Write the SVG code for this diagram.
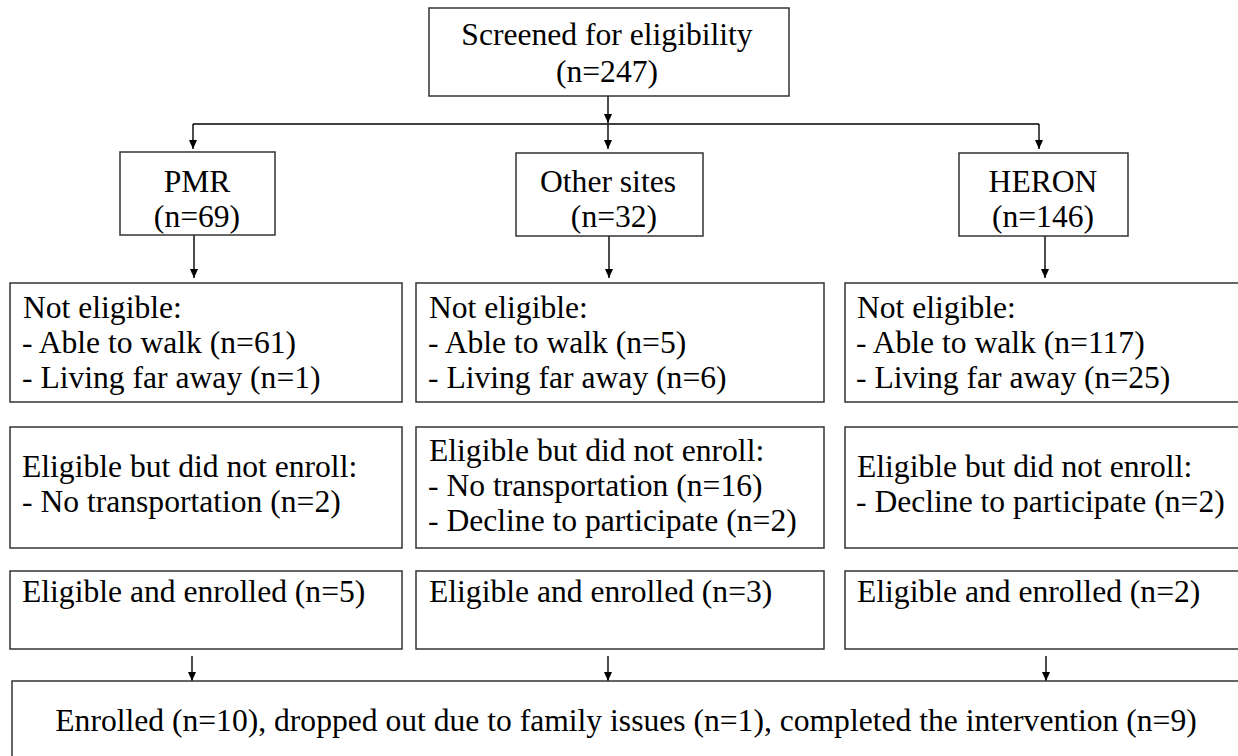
<svg xmlns="http://www.w3.org/2000/svg" width="1238" height="756" viewBox="0 0 1238 756">
<style>
.box{fill:#fff;stroke:#333;stroke-width:1.5}
.t{font-family:"Liberation Serif","Times New Roman",serif;font-size:31.6px;fill:#000}
.c{text-anchor:middle}
.ln{fill:none;stroke:#000;stroke-width:1.4}
</style>
<defs>
<marker id="ah" markerUnits="userSpaceOnUse" markerWidth="10" markerHeight="10" viewBox="0 0 10 10" refX="9" refY="5" orient="auto">
<path d="M0,1 L9,5 L0,9 Z" fill="#000"/>
</marker>
</defs>
<rect width="1238" height="756" fill="#fff"/>
<g id="connectors">
<path class="ln" d="M608,96 V123" marker-end="url(#ah)"/>
<path class="ln" d="M193,124 H1039"/>
<path class="ln" d="M193,124 V149" marker-end="url(#ah)"/>
<path class="ln" d="M608,124 V149" marker-end="url(#ah)"/>
<path class="ln" d="M1039,124 V149" marker-end="url(#ah)"/>
<path class="ln" d="M194,235 V278" marker-end="url(#ah)"/>
<path class="ln" d="M609,236 V278" marker-end="url(#ah)"/>
<path class="ln" d="M1045,236 V278" marker-end="url(#ah)"/>
<path class="ln" d="M192,656 V681" marker-end="url(#ah)"/>
<path class="ln" d="M608,656 V681" marker-end="url(#ah)"/>
<path class="ln" d="M1046,656 V681" marker-end="url(#ah)"/>
</g>
<g id="screened">
<rect class="box" x="429" y="8" width="360" height="88"/>
<text class="t c" x="607" y="45">Screened for eligibility</text>
<text class="t c" x="607" y="82">(n=247)</text>
</g>
<g id="pmr">
<rect class="box" x="120" y="152" width="155" height="83"/>
<text class="t c" x="197" y="192">PMR</text>
<text class="t c" x="197" y="227">(n=69)</text>
</g>
<g id="other">
<rect class="box" x="516" y="153" width="187" height="83"/>
<text class="t c" x="608" y="192">Other sites</text>
<text class="t c" x="614" y="227">(n=32)</text>
</g>
<g id="heron">
<rect class="box" x="959" y="153" width="169" height="83"/>
<text class="t c" x="1043" y="192">HERON</text>
<text class="t c" x="1043" y="227">(n=146)</text>
</g>
<g id="pmr-noteligible">
<rect class="box" x="10" y="283" width="392" height="119"/>
<text class="t" x="23" y="318">Not eligible:</text>
<text class="t" x="22" y="353">- Able to walk (n=61)</text>
<text class="t" x="22" y="388">- Living far away (n=1)</text>
</g>
<g id="other-noteligible">
<rect class="box" x="416" y="283" width="408" height="119"/>
<text class="t" x="429" y="318">Not eligible:</text>
<text class="t" x="428" y="353">- Able to walk (n=5)</text>
<text class="t" x="428" y="388">- Living far away (n=6)</text>
</g>
<g id="heron-noteligible">
<rect class="box" x="845" y="283" width="400" height="119"/>
<text class="t" x="857" y="318">Not eligible:</text>
<text class="t" x="856" y="353">- Able to walk (n=117)</text>
<text class="t" x="856" y="388">- Living far away (n=25)</text>
</g>
<g id="pmr-noenroll">
<rect class="box" x="10" y="427" width="392" height="121"/>
<text class="t" x="22" y="477">Eligible but did not enroll:</text>
<text class="t" x="22" y="512">- No transportation (n=2)</text>
</g>
<g id="other-noenroll">
<rect class="box" x="416" y="427" width="408" height="121"/>
<text class="t" x="429" y="461">Eligible but did not enroll:</text>
<text class="t" x="428" y="496">- No transportation (n=16)</text>
<text class="t" x="428" y="531">- Decline to participate (n=2)</text>
</g>
<g id="heron-noenroll">
<rect class="box" x="845" y="427" width="400" height="121"/>
<text class="t" x="857" y="477">Eligible but did not enroll:</text>
<text class="t" x="856" y="512">- Decline to participate (n=2)</text>
</g>
<g id="pmr-enrolled">
<rect class="box" x="10" y="571" width="392" height="78"/>
<text class="t" x="22" y="602">Eligible and enrolled (n=5)</text>
</g>
<g id="other-enrolled">
<rect class="box" x="416" y="571" width="408" height="78"/>
<text class="t" x="429" y="602">Eligible and enrolled (n=3)</text>
</g>
<g id="heron-enrolled">
<rect class="box" x="845" y="571" width="400" height="78"/>
<text class="t" x="857" y="602">Eligible and enrolled (n=2)</text>
</g>
<g id="final">
<rect class="box" x="12" y="681" width="1240" height="90"/>
<text class="t c" x="626" y="731">Enrolled (n=10), dropped out due to family issues (n=1), completed the intervention (n=9)</text>
</g>
</svg>
